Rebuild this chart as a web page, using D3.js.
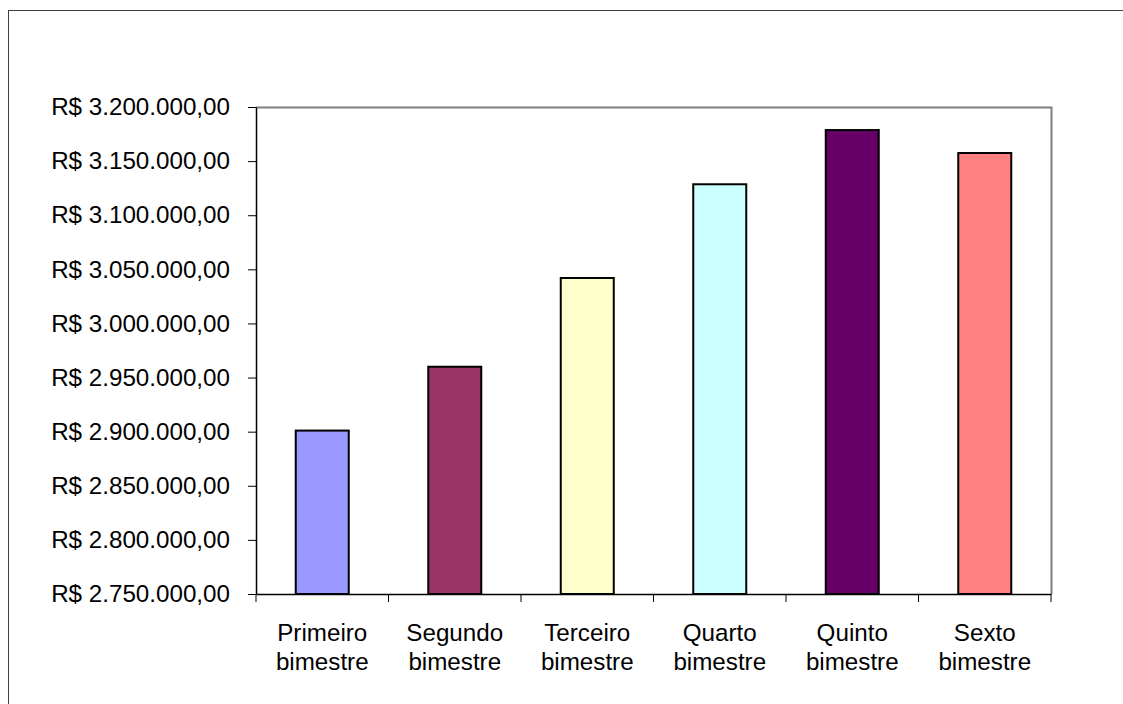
<!DOCTYPE html>
<html>
<head>
<meta charset="utf-8">
<script src="https://cdn.jsdelivr.net/npm/d3@7"></script>
<style>
  html, body { margin: 0; padding: 0; background: #fff; }
  svg { display: block; font-family: "Liberation Sans", Arial, sans-serif; }
</style>
</head>
<body>
<svg id="chart" width="1123" height="704"></svg>
<script>
// Receita por bimestre (R$)
const categories = [
  ["Primeiro", "bimestre"],
  ["Segundo", "bimestre"],
  ["Terceiro", "bimestre"],
  ["Quarto", "bimestre"],
  ["Quinto", "bimestre"],
  ["Sexto", "bimestre"]
];
const values = [2901000, 2960000, 3042000, 3128600, 3178700, 3157500];
const barColors = ["#9999FF", "#993366", "#FFFFCC", "#CCFFFF", "#660066", "#FF8080"];
const yTicks = [2750000, 2800000, 2850000, 2900000, 2950000, 3000000, 3050000, 3100000, 3150000, 3200000];

const svg = d3.select("#chart");
const W = 1123, H = 704;
const plot = { left: 256, right: 1051, top: 107, bottom: 594 };
const fontSize = 24.2;

svg.append("rect").attr("width", W).attr("height", H).attr("fill", "#fff");

// chart area frame
svg.append("rect")
  .attr("x", 8.5).attr("y", 10.5)
  .attr("width", 1300).attr("height", 900)
  .attr("fill", "none").attr("stroke", "#404040").attr("stroke-width", 1);

const keys = categories.map((c, i) => i);

const xOuter = d3.scaleBand().domain(keys).range([plot.left, plot.right]).padding(0);
const xBar = d3.scaleBand().domain(keys).range([plot.left, plot.right])
  .paddingInner(0.6).paddingOuter(0.3);
const y = d3.scaleLinear().domain([2750000, 3200000]).range([plot.bottom, plot.top]);

const brl = d3.formatLocale({
  decimal: ",", thousands: ".", grouping: [3], currency: ["R$ ", ""]
});
const fmt = brl.format("$,.2f");

// plot area border (top and right)
svg.append("path")
  .attr("d", `M${plot.left},${plot.top + 0.5}H${plot.right + 0.5}V${plot.bottom}`)
  .attr("fill", "none").attr("stroke", "#808080").attr("stroke-width", 2);

// bars
svg.append("g").selectAll("rect")
  .data(values)
  .join("rect")
  .attr("x", (d, i) => xBar(i))
  .attr("width", xBar.bandwidth())
  .attr("y", d => y(d))
  .attr("height", d => y(2750000) - y(d))
  .attr("fill", (d, i) => barColors[i])
  .attr("stroke", "#000")
  .attr("stroke-width", 2);

// y axis
const yAxis = d3.axisLeft(y)
  .tickValues(yTicks)
  .tickFormat(fmt)
  .tickSizeInner(8)
  .tickSizeOuter(0)
  .tickPadding(18);
const gy = svg.append("g")
  .attr("transform", `translate(${plot.left},0)`)
  .call(yAxis);
gy.select(".domain").attr("stroke", "#000").attr("stroke-width", 1.5);
gy.selectAll(".tick line").attr("stroke", "#000");
gy.selectAll(".tick text")
  .attr("font-size", fontSize)
  .attr("font-family", "Liberation Sans, Arial, sans-serif")
  .attr("fill", "#000");

// x axis with ticks at category boundaries
const xAxis = d3.axisBottom(xOuter).tickSizeInner(0).tickSizeOuter(0).tickFormat("");
const gx = svg.append("g")
  .attr("transform", `translate(0,${plot.bottom})`)
  .call(xAxis);
gx.select(".domain").attr("stroke", "#000").attr("stroke-width", 1.5);
gx.selectAll(".tick").remove();

const boundaries = keys.map(k => xOuter(k)).concat([plot.right]);
gx.selectAll("line.bound")
  .data(boundaries)
  .join("line")
  .attr("class", "bound")
  .attr("x1", d => d).attr("x2", d => d)
  .attr("y1", 0).attr("y2", 8)
  .attr("stroke", "#000").attr("stroke-width", 1);

// category labels (two lines)
const labels = svg.append("g")
  .attr("font-size", fontSize)
  .attr("text-anchor", "middle")
  .attr("fill", "#000");
labels.selectAll("text")
  .data(categories)
  .join("text")
  .attr("x", (d, i) => xOuter(i) + xOuter.bandwidth() / 2)
  .attr("y", 641)
  .each(function (d) {
    const t = d3.select(this);
    d.forEach((line, j) => {
      t.append("tspan")
        .attr("x", t.attr("x"))
        .attr("dy", j === 0 ? 0 : 29)
        .text(line);
    });
  });
</script>
</body>
</html>
